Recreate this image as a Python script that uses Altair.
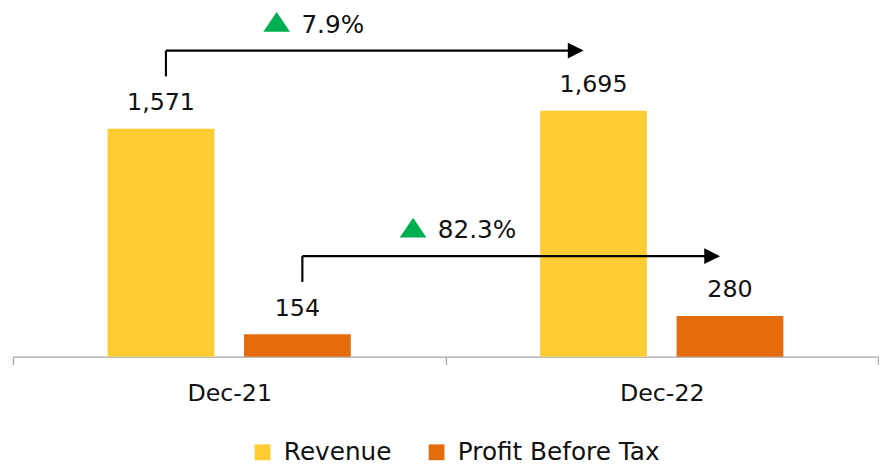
import altair as alt
import pandas as pd

# ---- data ----
periods = ["Dec-21", "Dec-22"]
series_names = ["Revenue", "Profit Before Tax"]
revenue = [1571, 1695]
profit_before_tax = [154, 280]
growth_labels = ["7.9%", "82.3%"]
colors = ["#FFCC33", "#E46C0A"]

# ---- layout / style ----
FONT = "DejaVu Sans"
Y_MAX = 2385
PAD_INNER = 0.2174
PAD_OUTER = 0.694
INK = "#111111"
AXIS_GREY = "#A6A6A6"

rows = []
for i, p in enumerate(periods):
    rows.append({"period": p, "series": series_names[0], "value": revenue[i]})
    rows.append({"period": p, "series": series_names[1], "value": profit_before_tax[i]})
bars_df = pd.DataFrame(rows)

# centre of each series' sub-band, in units of one period band
step = 1 / (2 - PAD_INNER + 2 * PAD_OUTER)
centers = {series_names[0]: PAD_OUTER * step + (1 - PAD_INNER) * step / 2}
centers[series_names[1]] = centers[series_names[0]] + step

arrows_df = pd.DataFrame({
    "series": series_names,
    "x_start": [0 + centers[s] for s in series_names],
    "x_end": [1 + centers[s] for s in series_names],
    "y": [revenue[0], profit_before_tax[0]],
    "label": growth_labels,
})

x_enc = alt.X(
    "period:N", sort=periods, title=None,
    scale=alt.Scale(paddingInner=0, paddingOuter=0),
    axis=alt.Axis(labelAngle=0, labelFont=FONT, labelFontSize=24, labelColor=INK,
                  labelPadding=17, tickBand="extent", tickSize=8, tickColor=AXIS_GREY,
                  tickWidth=1.3, domainColor=AXIS_GREY, domainWidth=1.3, grid=False),
)
xoff = alt.XOffset(
    "series:N", sort=series_names,
    scale=alt.Scale(domain=series_names, paddingInner=PAD_INNER, paddingOuter=PAD_OUTER),
)
y_enc = alt.Y("value:Q", scale=alt.Scale(domain=[0, Y_MAX], nice=False), axis=None)

bars = alt.Chart(bars_df).mark_bar().encode(
    x=x_enc, xOffset=xoff, y=y_enc,
    color=alt.Color(
        "series:N", sort=series_names,
        scale=alt.Scale(domain=series_names, range=colors),
        legend=alt.Legend(title=None, orient="none", legendX=240, legendY=434,
                          direction="horizontal", symbolType="square", symbolSize=256,
                          symbolStrokeWidth=0, symbolOpacity=1, labelFont=FONT,
                          labelFontSize=25, labelColor=INK, labelOffset=9,
                          columnPadding=33, padding=0, labelLimit=400),
    ),
)
labels = alt.Chart(bars_df).mark_text(
    font=FONT, fontSize=24, color=INK, baseline="alphabetic", dy=-19
).encode(x=x_enc, xOffset=xoff, y=y_enc, text=alt.Text("value:Q", format=","))

qx_scale = alt.Scale(domain=[0, 2], nice=False, zero=False)
ax = alt.X("x_start:Q", scale=qx_scale, axis=None)
ax_end = alt.X("x_end:Q", scale=qx_scale, axis=None)
ay = alt.Y("y:Q", scale=alt.Scale(domain=[0, Y_MAX], nice=False), axis=None)

arrow_base = alt.Chart(arrows_df)
vrule = arrow_base.mark_rule(color="black", strokeWidth=2.2, xOffset=5,
                             yOffset=-53, y2Offset=-79).encode(x=ax, y=ay, y2="y:Q")
hrule = arrow_base.mark_rule(color="black", strokeWidth=2.2, xOffset=5,
                             x2Offset=-20, yOffset=-79).encode(x=ax, x2="x_end:Q", y=ay)
head = arrow_base.mark_point(shape="M-1,-1L1,0L-1,1Z", size=256, filled=True,
                             color="black", opacity=1, strokeWidth=0,
                             xOffset=-18, yOffset=-79).encode(x=ax_end, y=ay)
tri = arrow_base.mark_point(shape="M-1,0.74L1,0.74L0,-0.74Z", size=729, filled=True,
                            color="#00B050", opacity=1, strokeWidth=0,
                            xOffset=117, yOffset=-108).encode(x=ax, y=ay)
growth = arrow_base.mark_text(font=FONT, fontSize=25, color=INK, align="left",
                              baseline="alphabetic", dx=142, dy=-97).encode(
    x=ax, y=ay, text="label:N")

chart = alt.layer(
    alt.layer(bars, labels),
    alt.layer(vrule, hrule, head, tri, growth),
).resolve_scale(x="independent").properties(
    width=875, height=350,
    padding={"left": 4, "top": 0, "right": 0, "bottom": 0},
    background="white",
).configure_view(stroke=None)

chart.save("out.html", embed_options={"renderer": "svg", "actions": False})
